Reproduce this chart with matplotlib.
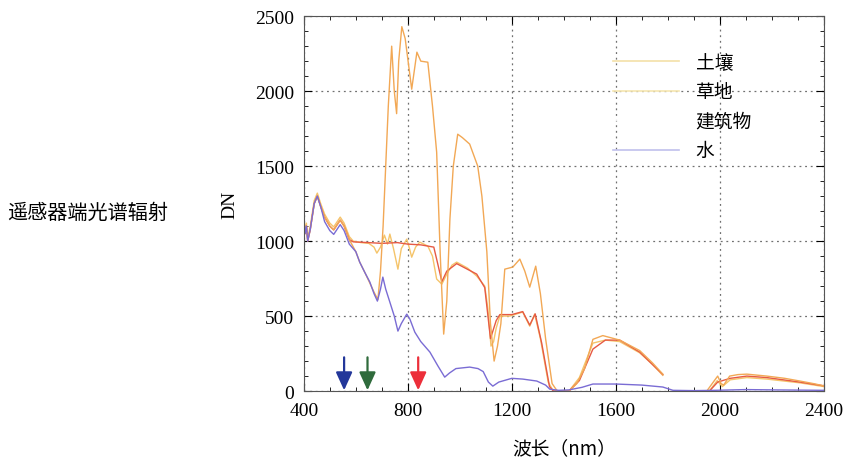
import numpy as np
import matplotlib
matplotlib.use("Agg")
import matplotlib.pyplot as plt
from matplotlib.lines import Line2D
from matplotlib.ticker import MultipleLocator

# --- 数据 ---
nan = np.nan

# 可见光段四条曲线共有部分
vis_wl = [400, 405, 410, 415, 425, 440, 452, 465, 480, 500, 515, 540, 555, 575]
vis_dn = [1150, 1050, 1100, 1000, 1080, 1250, 1300, 1230, 1160, 1100, 1075, 1140, 1100, 1010]

water_wl = vis_wl + [600, 615, 635, 654, 670, 683, 695, 704, 715, 731, 748, 762, 775, 796,
                     808, 827, 850, 885, 915, 942, 960, 985, 1038, 1070, 1090, 1110, 1127,
                     1150, 1200, 1242, 1296, 1330, 1346, 1380, 1420, 1470, 1512, 1600,
                     1700, 1781, 1820, 1900, 1980, 2100, 2200, 2400]
water_dn = [v - 30 if w > 470 else v for w, v in zip(vis_wl, vis_dn)] + \
           [930, 860, 790, 727, 650, 600, 680, 760, 680, 593, 500, 400, 450, 513,
            480, 393, 330, 260, 170, 93, 120, 150, 160, 150, 130, 60, 33,
            60, 85, 80, 67, 40, 13, 5, 8, 25, 47, 47,
            40, 27, 5, 3, 5, 10, 8, 5]

grass_wl = vis_wl + [600, 615, 635, 654, 670, 685, 695, 705, 715, 725, 738, 748, 757, 765,
                     777, 790, 815, 835, 850, 877, 895, 911, 925, 938, 950, 962, 975, 992,
                     1010, 1038, 1069, 1085, 1104, 1118, 1132, 1145, 1158, 1173, 1204,
                     1231, 1250, 1269, 1292, 1310, 1330, 1355, 1375, 1420, 1450, 1480,
                     1512, 1550, 1615, 1692, 1740, 1781, 1782,
                     1950, 1975, 1992, 2005, 2015, 2038, 2070, 2104, 2181, 2250, 2308,
                     2360, 2400]
grass_dn = vis_dn + [930, 860, 790, 720, 660, 610, 800, 1100, 1500, 1900, 2300, 2000, 1850, 2200,
                     2430, 2350, 2013, 2260, 2200, 2193, 1900, 1593, 900, 380, 600, 1147, 1500, 1713,
                     1690, 1647, 1500, 1300, 930, 450, 200, 300, 450, 813, 827,
                     880, 800, 693, 833, 650, 350, 50, 0, 0, 50, 150,
                     345, 370, 340, 270, 190, 113, nan,
                     0, 60, 100, 50, 40, 100, 110, 113, 100, 85, 67,
                     50, 35]

soil_wl = vis_wl + [590, 620, 650, 670, 681, 695, 710, 722, 731, 745, 762, 775, 796, 805,
                    815, 830, 846, 877, 895, 911, 931, 950, 970, 988, 1030, 1065, 1096,
                    1108, 1120, 1130, 1140, 1154, 1192, 1242, 1269, 1288, 1310, 1340,
                    1360, 1420, 1460, 1512, 1560, 1615, 1692, 1740, 1781, 1782,
                    1960, 1990, 2010, 2040, 2104, 2181, 2308, 2400]
soil_dn = [v + 20 for v in vis_dn] + [1000, 990, 985, 960, 920, 960, 1040, 980, 1047, 950, 813, 950, 1013, 960,
                                      893, 960, 993, 967, 900, 747, 713, 780, 840, 860, 820, 767, 700,
                                      550, 300, 330, 420, 500, 500, 527, 433, 513, 350, 60,
                                      0, 0, 90, 320, 340, 330, 255, 180, 105, nan,
                                      0, 70, 30, 75, 90, 80, 55, 30]

build_wl = vis_wl + [590, 650, 700, 760, 800, 850, 900, 915, 931, 950, 988, 1065, 1096, 1118,
                     1140, 1154, 1200, 1242, 1269, 1290, 1315, 1345, 1360, 1420, 1460, 1512,
                     1560, 1615, 1692, 1781, 1782,
                     1960, 1992, 2040, 2104, 2181, 2308, 2400]
build_dn = vis_dn + [995, 990, 985, 990, 980, 975, 960, 850, 730, 800, 850, 780, 690, 350,
                     470, 510, 510, 530, 440, 515, 320, 30, 0, 0, 70, 280,
                     340, 340, 260, 110, nan,
                     0, 60, 85, 100, 90, 60, 35]

series_names = ["土壤", "草地", "建筑物", "水"]
arrow_wl = [555, 645, 840]
arrow_colors = ["#23379a", "#2f6b3c", "#ec2f3a"]

# --- 字体 ---
plt.rcParams['font.family'] = ['Liberation Serif', 'Noto Sans CJK SC']
cjk = ['Noto Sans CJK SC', 'DejaVu Sans']

fig = plt.figure(figsize=(8.51, 4.64), dpi=100)
ax = fig.add_axes([0.357, 0.155, 0.611, 0.808])

ax.plot(soil_wl, soil_dn, color='#f5c46a', lw=1.0)
ax.plot(build_wl, build_dn, color='#e65a44', lw=1.0)
ax.plot(grass_wl, grass_dn, color='#f2a855', lw=1.0)
ax.plot(water_wl, water_dn, color='#7a6cd4', lw=1.0)

# 波段箭头
for w, c in zip(arrow_wl, arrow_colors):
    ax.annotate("", xy=(w, 5), xytext=(w, 225),
                arrowprops=dict(arrowstyle="-|>,head_width=0.5,head_length=1.1",
                                color=c, lw=1.6, shrinkA=0, shrinkB=0))

ax.set_xlim(400, 2400)
ax.set_ylim(0, 2500)
ax.xaxis.set_major_locator(MultipleLocator(400))
ax.xaxis.set_minor_locator(MultipleLocator(100))
ax.yaxis.set_major_locator(MultipleLocator(500))
ax.yaxis.set_minor_locator(MultipleLocator(100))
ax.tick_params(which='both', direction='in', top=True, right=True, labelsize=14)
ax.tick_params(axis='x', pad=8)
ax.tick_params(axis='y', pad=7)
ax.tick_params(which='major', length=6)
ax.tick_params(which='minor', length=3)
ax.grid(True, which='major', linestyle=(0, (1.5, 3)), color='#707070', lw=0.9)
for s in ax.spines.values():
    s.set_color('#555555')

ax.set_ylabel("DN", fontsize=14, labelpad=12)
ax.set_xlabel("波长（nm）", fontsize=13.5, family=cjk, labelpad=13)

fig.text(0.008, 0.54, "遥感器端光谱辐射", fontsize=14.5, family=cjk, va='center', ha='left')

# 图例 (颜色很淡)
handles = [Line2D([], [], color='#f3e0a8', lw=1.2),
           Line2D([], [], color='#f6e6b0', lw=1.2),
           Line2D([], [], color='white', lw=1.2),
           Line2D([], [], color='#c0c0ec', lw=1.2)]
leg = ax.legend(handles, series_names, loc='upper left', bbox_to_anchor=(0.595, 0.905),
                frameon=False, handlelength=3.5, handletextpad=0.9, labelspacing=0.45,
                borderpad=0, borderaxespad=0, prop={'family': cjk, 'size': 13.5})

fig.savefig("out.png", dpi=100)
